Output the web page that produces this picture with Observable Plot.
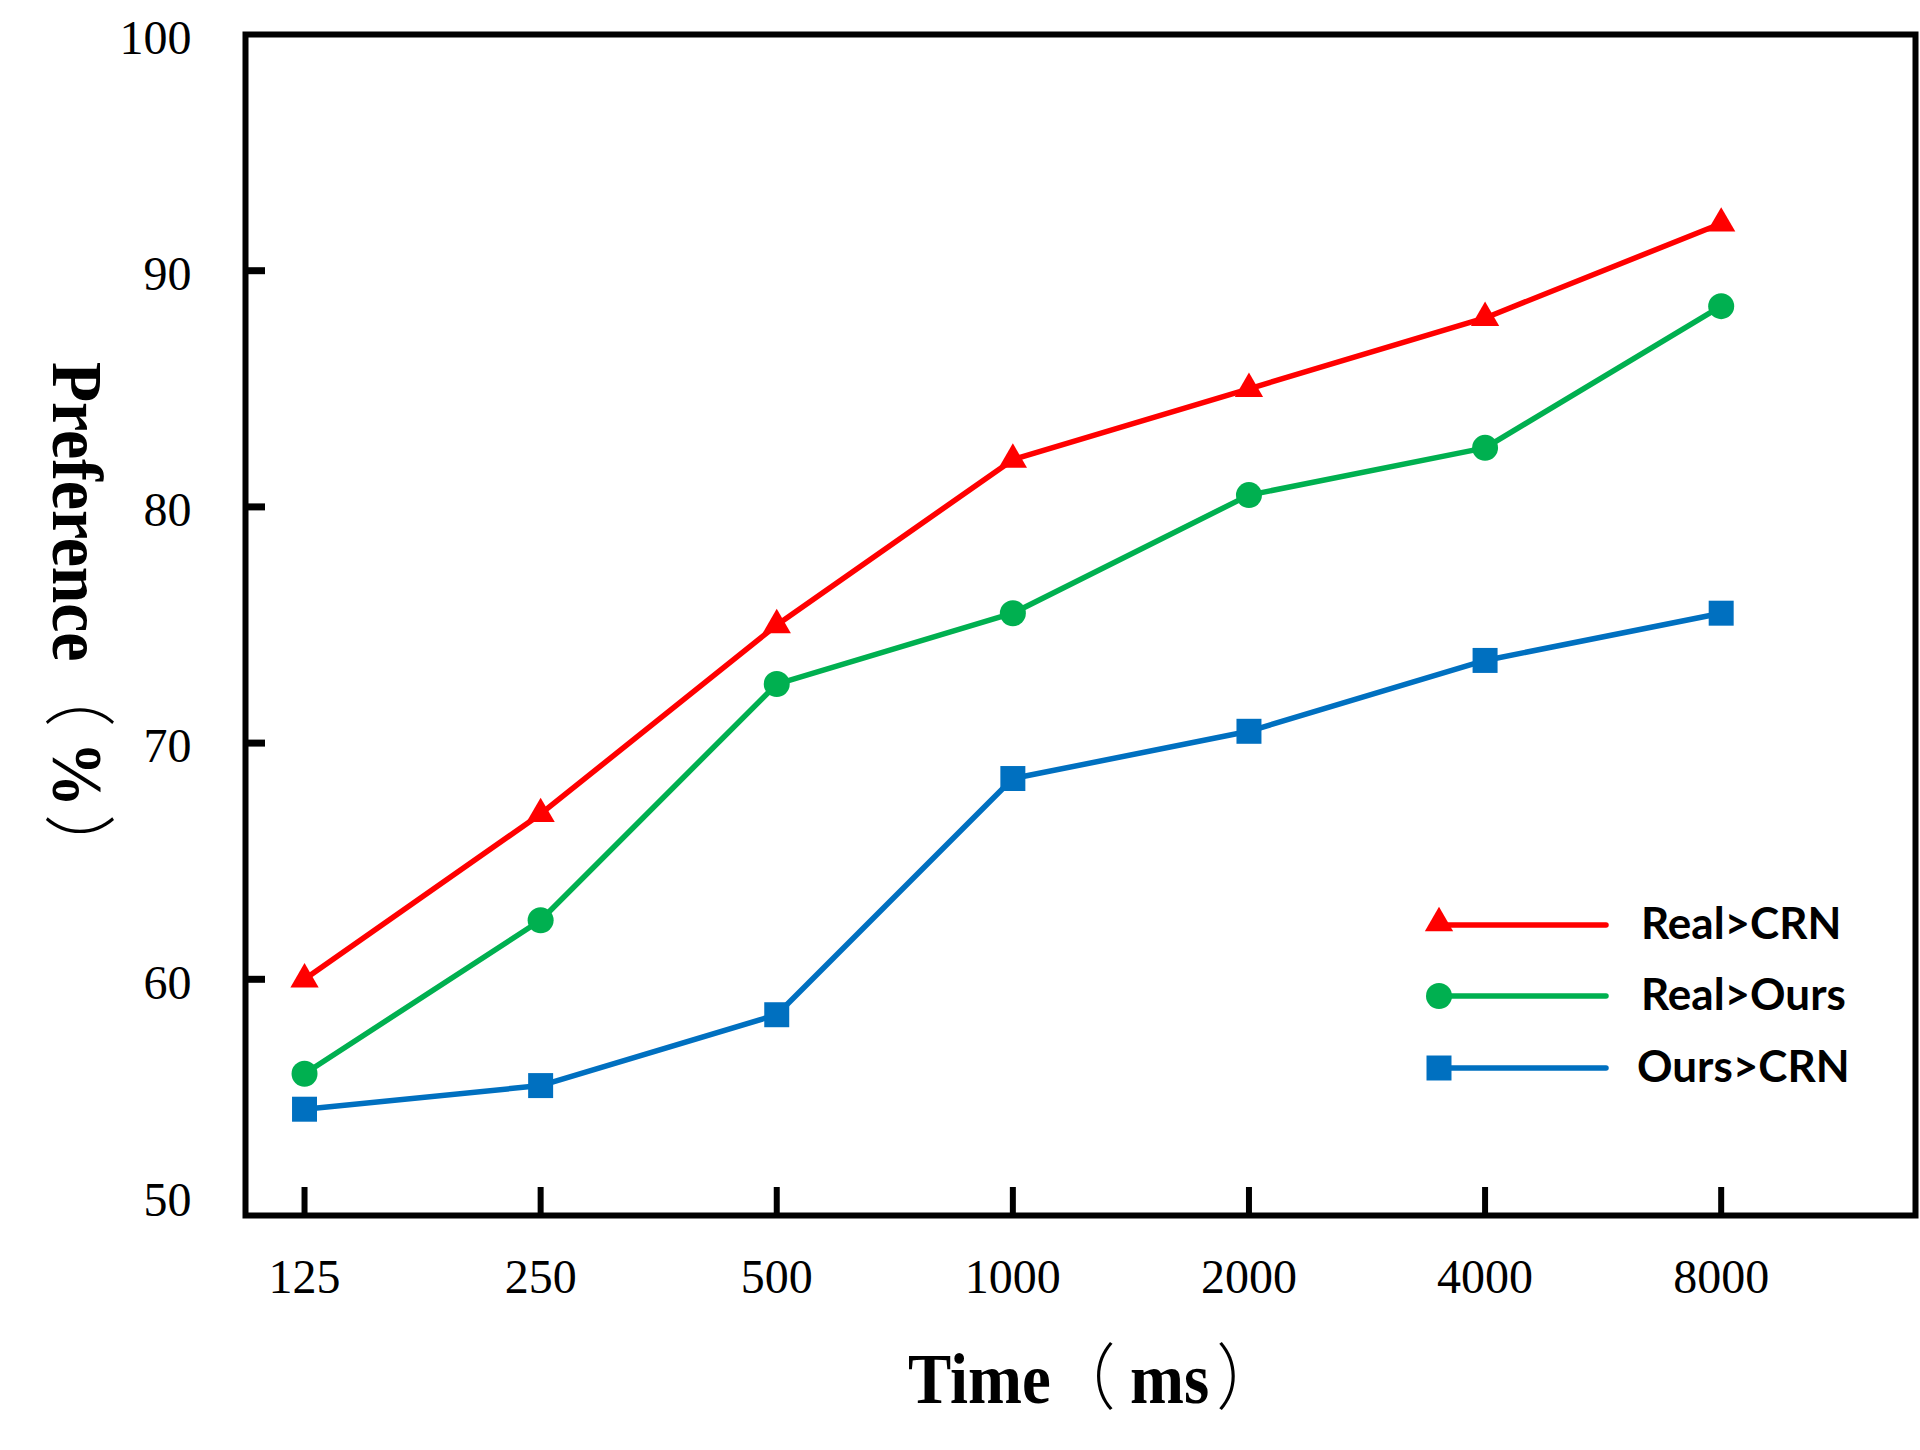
<!DOCTYPE html>
<html>
<head>
<meta charset="utf-8">
<script src="https://cdn.jsdelivr.net/npm/d3@7"></script>
<script src="https://cdn.jsdelivr.net/npm/@observablehq/plot@0.6"></script>
<style>
  html, body { margin: 0; padding: 0; background: #ffffff; }
  #chart { width: 1920px; height: 1450px; }
</style>
</head>
<body>
<div id="chart"></div>
<script>
// ---- data ----
const times = [125, 250, 500, 1000, 2000, 4000, 8000];
const seriesNames = ["Real>CRN", "Real>Ours", "Ours>CRN"];
const realCRN  = [60, 67, 75, 82, 85, 88, 92];
const realOurs = [56, 62.5, 72.5, 75.5, 80.5, 82.5, 88.5];
const oursCRN  = [54.5, 55.5, 58.5, 68.5, 70.5, 73.5, 75.5];
const yTicksUpper = [60, 70, 80, 90, 100];
const yTickBottom = [50];
const yInnerTicks = [60, 70, 80, 90];
const xTitle = ["Time", "（", "ms", "）"];
const yTitle = ["Preference", "（", "%", "）"];

// ---- styles ----
const colors = ["#FF0000", "#00B050", "#0070C0"];
const symbols = ["triangle", "circle", "square"];
const radii = [10.5, 13, 14.1];
const titleSpacing = [0, 0, 16, 8];

const seriesValues = [realCRN, realOurs, oursCRN];
const data = seriesNames.flatMap((name, i) =>
  times.map((t, j) => ({series: name, time: t, value: seriesValues[i][j]})));

const W = 1920, H = 1450;
const mL = 245, mR = 5, mT = 34, mB = 235;
const serif = "'Liberation Serif', 'Times New Roman', serif";
const cjk = "'Noto Sans CJK SC', 'Liberation Serif', serif";

const plot = Plot.plot({
  width: W, height: H,
  marginLeft: mL, marginRight: mR, marginTop: mT, marginBottom: mB,
  style: {background: "#ffffff", color: "#000000", fontFamily: serif},
  x: {type: "log", base: 2, domain: [125 * Math.pow(2, -0.25), 8000 * Math.pow(2, 0.823)]},
  y: {domain: [50, 100]},
  color: {domain: seriesNames, range: colors},
  marks: [
    // inward ticks
    Plot.axisX({ticks: times, tickSize: 28, dy: -28, fill: "none", label: null, strokeWidth: 6, stroke: "#000"}),
    Plot.axisY({ticks: yInnerTicks, tickSize: 20, dx: 20, fill: "none", label: null, strokeWidth: 7, stroke: "#000"}),
    // tick labels
    Plot.axisX({ticks: times, tickSize: 0, tickPadding: 43, tickFormat: d => String(d), label: null, fontSize: 48, fill: "#000"}),
    Plot.axisY({ticks: yTicksUpper, tickSize: 0, tickPadding: 54, dy: 4, tickFormat: d => String(d), label: null, fontSize: 48, fill: "#000"}),
    Plot.axisY({ticks: yTickBottom, tickSize: 0, tickPadding: 54, dy: -15, tickFormat: d => String(d), label: null, fontSize: 48, fill: "#000"}),
    Plot.frame({stroke: "#000", strokeWidth: 6}),
    Plot.line(data, {x: "time", y: "value", stroke: "series", strokeWidth: 5.5}),
    ...seriesNames.map((name, i) =>
      Plot.dot(data.filter(d => d.series === name), {
        x: "time", y: "value", fill: colors[i], symbol: symbols[i], r: radii[i], stroke: "none"
      }))
  ]
});

document.getElementById("chart").appendChild(plot);

const svg = d3.select(plot);

function addTitle(parts, transform) {
  const t = svg.append("text")
    .attr("transform", transform)
    .attr("text-anchor", "start")
    .attr("fill", "#000")
    .attr("font-size", 72);
  parts.forEach((s, i) => {
    const isParen = i % 2 === 1;
    t.append("tspan").text(s)
      .attr("dx", titleSpacing[i])
      .attr("font-family", isParen ? cjk : serif)
      .attr("font-weight", isParen ? "300" : "bold");
  });
}
// x title
addTitle(xTitle, "translate(908,1403) scale(0.9,1)");
// y title (rotated clockwise, read top to bottom)
addTitle(yTitle, "translate(53,362) rotate(90) scale(0.91,1)");

// legend
const legendX0 = 1439, legendX1 = 1606, legendTextX = 1641;
const legendY = [925, 996, 1068];
const symbolTypes = {triangle: d3.symbolTriangle, circle: d3.symbolCircle, square: d3.symbolSquare};
const lg = svg.append("g");
seriesNames.forEach((name, i) => {
  const y = legendY[i];
  lg.append("line")
    .attr("x1", legendX0).attr("x2", legendX1).attr("y1", y).attr("y2", y)
    .attr("stroke", colors[i]).attr("stroke-width", 5.5).attr("stroke-linecap", "round");
  lg.append("path")
    .attr("d", d3.symbol(symbolTypes[symbols[i]], Math.PI * radii[i] * radii[i])())
    .attr("transform", `translate(${legendX0},${y - (i === 0 ? 2 : 0)})`)
    .attr("fill", colors[i]);
  lg.append("text")
    .attr("x", legendTextX - (i === 2 ? 4 : 0)).attr("y", y + 14)
    .attr("text-anchor", "start")
    .attr("font-family", "Lato, 'Open Sans', sans-serif")
    .attr("font-weight", "bold")
    .attr("font-size", 44)
    .attr("fill", "#000")
    .text(name);
});
</script>
</body>
</html>
